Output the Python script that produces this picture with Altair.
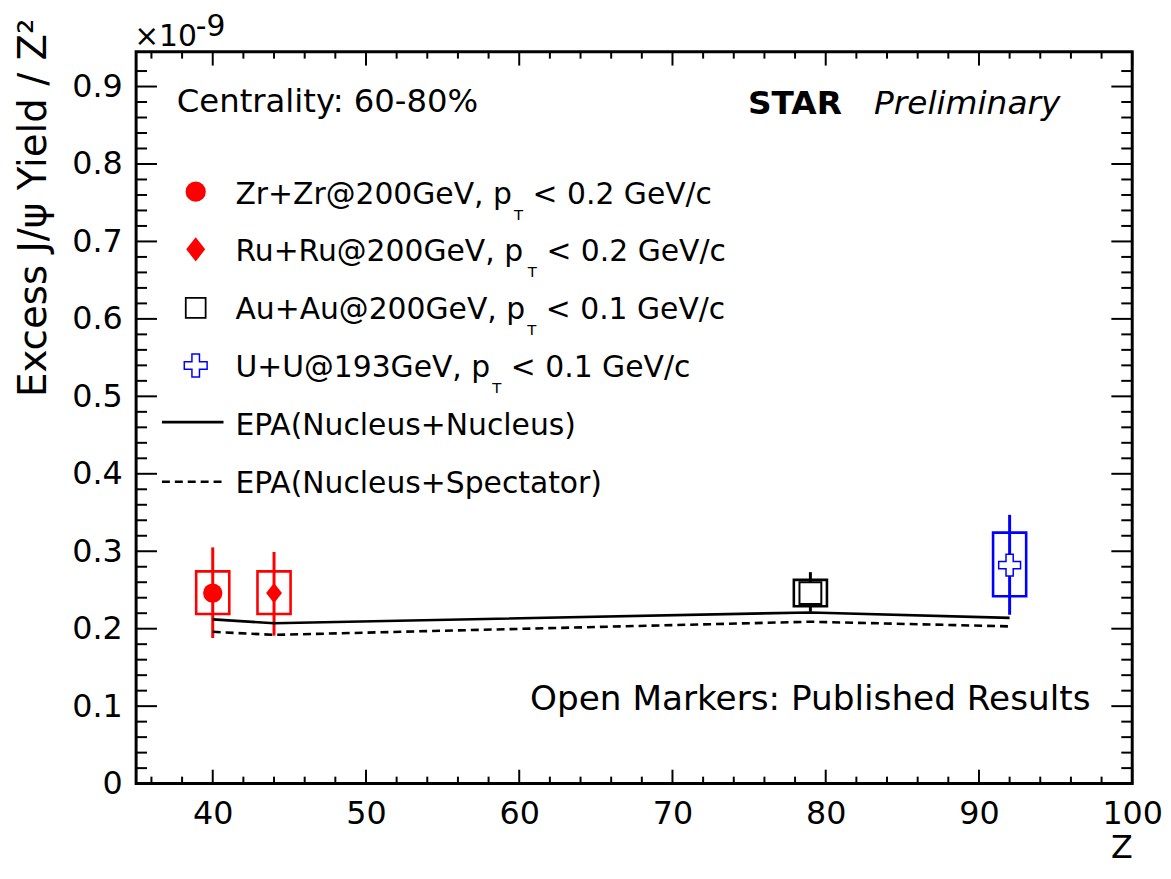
import altair as alt
import pandas as pd

# ---------------- values ----------------
systems   = ["Zr+Zr", "Ru+Ru", "Au+Au", "U+U"]
z_vals    = [40, 44, 79, 92]
yield_val = [0.246, 0.246, 0.246, 0.282]
stat_low  = [0.188, 0.191, 0.222, 0.218]
stat_high = [0.305, 0.299, 0.273, 0.347]
sys_low   = [0.219, 0.219, 0.229, 0.242]
sys_high  = [0.274, 0.274, 0.263, 0.324]

epa_z  = [40, 44, 79, 92]
epa_nn = [0.212, 0.207, 0.221, 0.214]   # EPA(Nucleus+Nucleus)
epa_ns = [0.196, 0.192, 0.209, 0.203]   # EPA(Nucleus+Spectator)

x_major = [40, 50, 60, 70, 80, 90, 100]
x_minor = [36, 38, 42, 44, 46, 48, 52, 54, 56, 58, 62, 64, 66, 68,
           72, 74, 76, 78, 82, 84, 86, 88, 92, 94, 96, 98]
y_major = [0.0, 0.1, 0.2, 0.3, 0.4, 0.5, 0.6, 0.7, 0.8, 0.9]
y_minor = [round(i * 0.02, 2) for i in range(1, 47) if i % 5 != 0]

legend_main = ["Zr+Zr@200GeV, p", "Ru+Ru@200GeV, p", "Au+Au@200GeV, p", "U+U@193GeV, p"]
legend_tail = ["< 0.2 GeV/c", "< 0.2 GeV/c", "< 0.1 GeV/c", "< 0.1 GeV/c"]
model_labels = ["EPA(Nucleus+Nucleus)", "EPA(Nucleus+Spectator)"]

# ---------------- styles ----------------
FONT = "DejaVu Sans"
series_color = ["#ff0000", "#ff0000", "#000000", "#0000ff"]
series_fill  = ["#ff0000", "#ff0000", "#ffffff", "#ffffff"]
DIAMOND = "M0,-1L0.78,0L0,1L-0.78,0Z"
CROSS = "M-0.33,-1H0.33V-0.33H1V0.33H0.33V1H-0.33V0.33H-1V-0.33H-0.33Z"
series_shape = ["circle", DIAMOND, "square", CROSS]
plot_size    = [380, 420, 484, 484]
legend_size  = [415, 600, 400, 529]
series_sw    = [0, 0, 2, 1.5]
BOX_HALF = 1.08

PW, PH = 1003, 737
XD = (35, 100)
YD = (0, 0.945)
X0, Y0 = 137, 49  # page position of plot area, used only for annotation placement


def zx(px):
    return XD[0] + (px - X0) * (XD[1] - XD[0]) / PW


def vy(py):
    return YD[1] - (py - Y0) * (YD[1] - YD[0]) / PH


# DejaVu Sans advance widths (per 1000 em) for text piece placement
ADV = {' ': 318, '%': 950, '(': 390, ')': 390, '+': 838, ',': 318, '-': 361, '.': 318,
       '/': 337, ':': 337, '<': 838, '@': 1000, 'A': 684, 'C': 698, 'E': 632, 'G': 775,
       'M': 863, 'N': 748, 'P': 603, 'R': 695, 'S': 635, 'T': 611, 'U': 732, 'V': 684,
       'Z': 685, 'a': 613, 'b': 635, 'c': 550, 'd': 635, 'e': 615, 'h': 634, 'i': 278,
       'k': 579, 'l': 278, 'm': 974, 'n': 634, 'o': 612, 'p': 635, 'r': 411, 's': 521,
       't': 392, 'u': 634, 'y': 592}


def text_w(s, fs):
    return sum(ADV.get(c, 636) for c in s) * fs / 1000.0


xs = alt.Scale(domain=list(XD), nice=False, zero=False)
ys = alt.Scale(domain=list(YD), nice=False, zero=False)

axis_x = alt.Axis(values=x_major, labelFontSize=32, labelFont=FONT, labelColor="black",
                  ticks=False, tickSize=0, domain=False, grid=False, labelPadding=15,
                  labelFlush=False, labelOverlap=False,
                  title="Z", titleFont=FONT, titleFontSize=32, titleFontWeight="normal",
                  titleColor="black", titleX=PW, titleY=74, titleAlign="right",
                  titleBaseline="alphabetic")
axis_y = alt.Axis(values=y_major, labelFontSize=32, labelFont=FONT, labelColor="black",
                  labelExpr="datum.value == 0 ? '0' : format(datum.value, '.1f')",
                  ticks=False, tickSize=0, domain=False, grid=False, labelPadding=14,
                  labelOverlap=False, labelFlush=False,
                  title="Excess J/\u03c8 Yield / Z\u00b2", titleFont=FONT, titleFontSize=39,
                  titleFontWeight="normal", titleColor="black", titleX=-91, titleY=-34,
                  titleAlign="right", titleAngle=270, titleBaseline="alphabetic")


def X(f):
    return alt.X(f, type="quantitative", scale=xs, axis=axis_x)


def Y(f):
    return alt.Y(f, type="quantitative", scale=ys, axis=axis_y)


# ---------------- data tables ----------------
pts = pd.DataFrame({
    "system": systems, "Z": z_vals, "y": yield_val,
    "slo": stat_low, "shi": stat_high, "blo": sys_low, "bhi": sys_high,
    "color": series_color, "fill": series_fill, "shape": series_shape,
    "size": plot_size, "sw": series_sw,
})

epa_df = pd.DataFrame({"Z": epa_z, "nn": epa_nn, "ns": epa_ns})

# legend geometry
row_base = [202, 260.2, 318.4, 376.6, 434.8, 493]
row_mid = [190, 248, 307, 365, 422, 482]
LEG_FS = 30
leg_pts = pd.DataFrame({
    "x": [zx(197)] * 4, "y": [vy(r) for r in row_mid[:4]],
    "color": series_color, "fill": series_fill, "shape": series_shape,
    "size": legend_size, "sw": [0, 0, 1.8, 1.5],
})
leg_lines = pd.DataFrame({
    "x1": [zx(163)] * 2, "x2": [zx(225)] * 2, "y": [vy(row_mid[4]), vy(row_mid[5])],
    "kind": ["nn", "ns"],
})

normal_txt = []


def add(rows, px, py, text, fs):
    rows.append({"x": zx(px), "y": vy(py), "text": text, "size": fs})


for i in range(4):
    w1 = text_w(legend_main[i], LEG_FS)
    add(normal_txt, 237, row_base[i], legend_main[i], LEG_FS)
    add(normal_txt, 237 + w1 + 2, row_base[i] + 16, "T", 15)
    add(normal_txt, 237 + w1 + 2 + text_w("T", 15) + text_w(" ", LEG_FS), row_base[i],
        legend_tail[i], LEG_FS)
for j in range(2):
    add(normal_txt, 237, row_base[4 + j], model_labels[j], LEG_FS)

add(normal_txt, 178, 110, "Centrality: 60-80%", 32.5)
add(normal_txt, 135, 43, "\u00d710", 30)
add(normal_txt, 197, 33, "-9", 30)

right_txt = []
add(right_txt, 1098, 712, "Open Markers: Published Results", 34.5)
bold_txt = []
add(bold_txt, 753, 112, "STAR", 33)
ital_txt = []
add(ital_txt, 880, 112, "Preliminary", 33)


def text_layer(rows, align="left", weight="normal", style="normal"):
    return alt.Chart(pd.DataFrame(rows)).mark_text(
        align=align, baseline="alphabetic", font=FONT, fontWeight=weight,
        fontStyle=style, color="black"
    ).encode(x=X("x"), y=Y("y"), text=alt.Text("text:N"),
             size=alt.Size("size:Q", scale=None))


# ---------------- layers ----------------
base = alt.Chart(pts)

boxes = base.transform_calculate(
    xl=f"datum.Z - {BOX_HALF}", xr=f"datum.Z + {BOX_HALF}"
).mark_rect(fillOpacity=0, strokeWidth=2.6).encode(
    x=X("xl"), x2="xr:Q",
    y=Y("blo"), y2="bhi:Q",
    stroke=alt.Stroke("color:N", scale=None),
)

errbars = base.mark_rule(strokeWidth=3).encode(
    x=X("Z"), y=Y("slo"), y2="shi", color=alt.Color("color:N", scale=None)
)

line_nn = alt.Chart(epa_df).mark_line(color="black", strokeWidth=2.6).encode(
    x=X("Z"), y=Y("nn"))
line_ns = alt.Chart(epa_df).mark_line(color="black", strokeWidth=2.6,
                                      strokeDash=[8, 5]).encode(x=X("Z"), y=Y("ns"))

points = base.mark_point(opacity=1, fillOpacity=1, strokeOpacity=1).encode(
    x=X("Z"), y=Y("y"),
    shape=alt.Shape("shape:N", scale=None), fill=alt.Fill("fill:N", scale=None),
    stroke=alt.Stroke("color:N", scale=None), size=alt.Size("size:Q", scale=None),
    strokeWidth=alt.StrokeWidth("sw:Q", scale=None),
)

leg_points = alt.Chart(leg_pts).mark_point(opacity=1, fillOpacity=1, strokeOpacity=1).encode(
    x=X("x"), y=Y("y"),
    shape=alt.Shape("shape:N", scale=None), fill=alt.Fill("fill:N", scale=None),
    stroke=alt.Stroke("color:N", scale=None), size=alt.Size("size:Q", scale=None),
    strokeWidth=alt.StrokeWidth("sw:Q", scale=None),
)
leg_nn = alt.Chart(leg_lines).transform_filter("datum.kind == 'nn'").mark_rule(
    color="black", strokeWidth=2.6).encode(x=X("x1"), x2="x2", y=Y("y"))
leg_ns = alt.Chart(leg_lines).transform_filter("datum.kind == 'ns'").mark_rule(
    color="black", strokeWidth=2.6, strokeDash=[8, 5]).encode(x=X("x1"), x2="x2", y=Y("y"))

# inward ticks on all four sides
xmaj = pd.DataFrame({"v": x_major})
xmin = pd.DataFrame({"v": x_minor})
ymaj = pd.DataFrame({"v": y_major})
ymin = pd.DataFrame({"v": y_minor})
TK = dict(color="black", strokeWidth=2)
ticks = [
    alt.Chart(xmaj).mark_rule(**TK).encode(x=X("v"), y=alt.value(PH), y2=alt.value(PH - 14)),
    alt.Chart(xmaj).mark_rule(**TK).encode(x=X("v"), y=alt.value(0), y2=alt.value(14)),
    alt.Chart(xmin).mark_rule(**TK).encode(x=X("v"), y=alt.value(PH), y2=alt.value(PH - 7)),
    alt.Chart(xmin).mark_rule(**TK).encode(x=X("v"), y=alt.value(0), y2=alt.value(7)),
    alt.Chart(ymaj).mark_rule(**TK).encode(y=Y("v"), x=alt.value(0), x2=alt.value(21)),
    alt.Chart(ymaj).mark_rule(**TK).encode(y=Y("v"), x=alt.value(PW), x2=alt.value(PW - 21)),
    alt.Chart(ymin).mark_rule(**TK).encode(y=Y("v"), x=alt.value(0), x2=alt.value(11)),
    alt.Chart(ymin).mark_rule(**TK).encode(y=Y("v"), x=alt.value(PW), x2=alt.value(PW - 11)),
]

texts = [
    text_layer(normal_txt),
    text_layer(right_txt, align="right"),
    text_layer(bold_txt, weight="bold"),
    text_layer(ital_txt, style="italic"),
]

chart = alt.layer(
    boxes, errbars, line_nn, line_ns, points, leg_points, leg_nn, leg_ns, *ticks, *texts
).properties(
    width=PW, height=PH,
    padding={"left": 129, "top": 41, "right": 31, "bottom": 82},
    autosize=alt.AutoSizeParams(type="none"),
).configure(
    background="white", font=FONT
).configure_view(
    stroke="black", strokeWidth=3
)

chart.save("out.html", embed_options={"renderer": "svg", "actions": False})
